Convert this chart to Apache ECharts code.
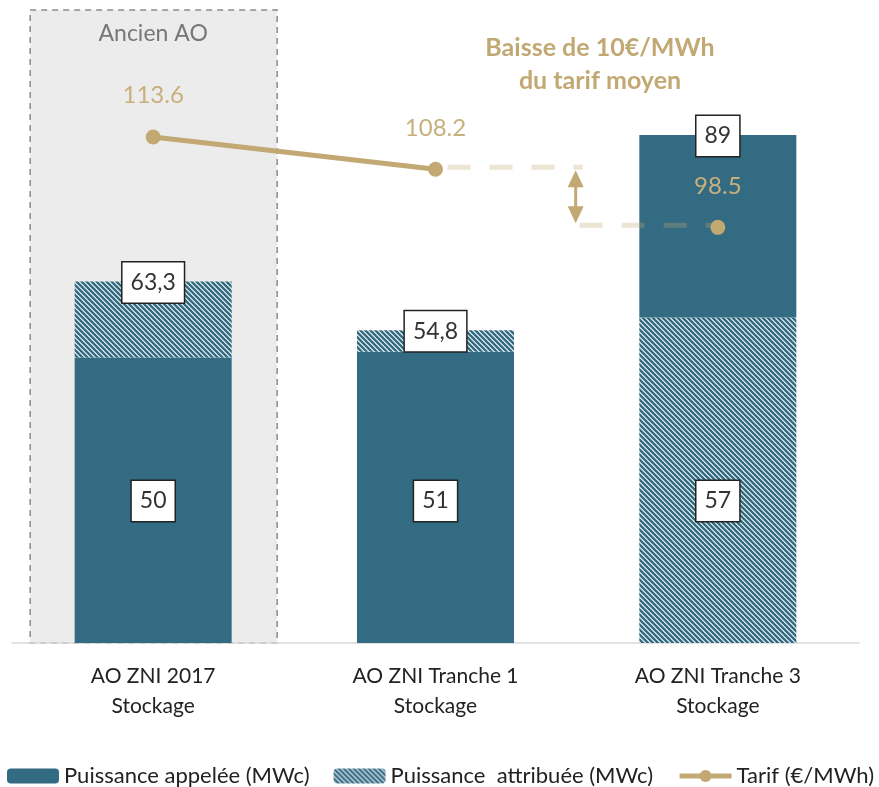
<!DOCTYPE html>
<html>
<head>
<meta charset="utf-8">
<script src="https://cdn.jsdelivr.net/npm/echarts@6/dist/echarts.min.js"></script>
<style>
  html, body { margin: 0; padding: 0; background: #fff; }
  #main { width: 879px; height: 787px; }
</style>
</head>
<body>
<div id="main"></div>
<script>
// données
var categories = ['AO ZNI 2017\nStockage', 'AO ZNI Tranche 1\nStockage', 'AO ZNI Tranche 3\nStockage'];
var puissanceAppelee = [50, 51, 89];        // MWc
var puissanceAttribuee = [63.3, 54.8, 57];  // MWc
var tarif = [113.6, 108.2, 98.5];           // €/MWh

var NAME_APP = 'Puissance appelée (MWc)';
var NAME_ATT = 'Puissance  attribuée (MWc)';
var NAME_TAR = 'Tarif (€/MWh)';

var TEAL = '#336b82';
var GOLD = '#c2a872';
var GOLD_TXT = '#c8b07c';
var FONT = 'Lato, "Noto Sans", sans-serif';

function fmt(v) { return String(v).replace('.', ','); }

// hachures
function makeHatch() {
  var n = 5;
  var c = document.createElement('canvas');
  c.width = n; c.height = n;
  var ctx = c.getContext('2d');
  ctx.fillStyle = '#fff';
  ctx.fillRect(0, 0, n, n);
  ctx.strokeStyle = TEAL;
  ctx.lineWidth = 2.5;
  ctx.beginPath();
  ctx.moveTo(-1, -1); ctx.lineTo(n + 1, n + 1);
  ctx.moveTo(-1, n - 1); ctx.lineTo(1, n + 1);
  ctx.moveTo(n - 1, -1); ctx.lineTo(n + 1, 1);
  ctx.stroke();
  return { image: c, repeat: 'repeat' };
}
var hatch = makeHatch();

// découpage en segments empilés
var solidBottom = [], hatchBottom = [], hatchTop = [], solidTop = [];
for (var i = 0; i < categories.length; i++) {
  var a = puissanceAppelee[i], b = puissanceAttribuee[i];
  if (a <= b) {
    solidBottom.push(a); hatchBottom.push('-');
    hatchTop.push(+(b - a).toFixed(2)); solidTop.push('-');
  } else {
    solidBottom.push('-'); hatchBottom.push(b);
    hatchTop.push('-'); solidTop.push(+(a - b).toFixed(2));
  }
}
// le tarif : trait plein entre les deux premiers AO, dernier point isolé
var tarifLigne = tarif.map(function (v, k) { return k < 2 ? v : '-'; });
var tarifPoint = tarif.map(function (v, k) { return k === 2 ? v : '-'; });

var boxLabel = {
  show: true,
  color: '#333',
  fontSize: 23,
  fontFamily: FONT,
  lineHeight: 24,
  backgroundColor: '#fff',
  borderColor: '#222',
  borderWidth: 1.5,
  padding: [8, 8]
};
var bottomLabel = Object.assign({}, boxLabel, {
  position: 'insideBottom',
  distance: 122,
  formatter: function (p) { return fmt(Math.min(puissanceAppelee[p.dataIndex], puissanceAttribuee[p.dataIndex])); }
});
var topLabel = Object.assign({}, boxLabel, {
  position: 'top',
  distance: -21,
  formatter: function (p) { return fmt(Math.max(puissanceAppelee[p.dataIndex], puissanceAttribuee[p.dataIndex])); }
});
var tarifLabel = { show: true, position: 'top', distance: 22, color: GOLD_TXT, fontSize: 24, fontFamily: FONT };

var chart = echarts.init(document.getElementById('main'));

var option = {
  animation: false,
  textStyle: { fontFamily: FONT },
  grid: { left: 12, right: 20, top: 15, bottom: 144 },
  legend: {
    left: 7,
    top: 765,
    width: 879,
    padding: 0,
    itemWidth: 52,
    itemHeight: 15,
    itemGap: 24,
    textStyle: { fontSize: 22, color: '#222', fontFamily: FONT },
    data: [
      NAME_APP,
      NAME_ATT,
      { name: NAME_TAR, lineStyle: { width: 5, color: GOLD } }
    ]
  },
  xAxis: {
    type: 'category',
    data: categories,
    axisLine: { lineStyle: { color: '#d9d9d9', width: 1.5 } },
    axisTick: { show: false },
    axisLabel: { color: '#222', fontSize: 21, lineHeight: 30, margin: 18, fontFamily: FONT }
  },
  yAxis: [
    { type: 'value', min: 0, max: 110, show: false, splitLine: { show: false } },
    { type: 'value', min: 29, max: 134, show: false, splitLine: { show: false } }
  ],
  series: [
    {
      name: NAME_APP, type: 'bar', stack: 'p', barWidth: 157,
      itemStyle: { color: TEAL }, label: bottomLabel, data: solidBottom
    },
    {
      name: NAME_ATT, type: 'bar', stack: 'p', barWidth: 157,
      itemStyle: { color: hatch }, label: bottomLabel, data: hatchBottom
    },
    {
      name: NAME_ATT, type: 'bar', stack: 'p', barWidth: 157,
      itemStyle: { color: hatch }, label: topLabel, data: hatchTop
    },
    {
      name: NAME_APP, type: 'bar', stack: 'p', barWidth: 157,
      itemStyle: { color: TEAL }, label: topLabel, data: solidTop
    },
    {
      name: NAME_TAR, type: 'line', yAxisIndex: 1, z: 6,
      symbol: 'circle', symbolSize: 15,
      lineStyle: { color: GOLD, width: 5 },
      itemStyle: { color: GOLD },
      label: tarifLabel,
      data: tarifLigne
    },
    {
      name: NAME_TAR, type: 'line', yAxisIndex: 1, z: 6,
      symbol: 'circle', symbolSize: 15,
      lineStyle: { color: GOLD, width: 5 },
      itemStyle: { color: GOLD },
      label: tarifLabel,
      data: tarifPoint
    }
  ]
};
chart.setOption(option);

// éléments annexes placés à partir des échelles
var cx0 = chart.convertToPixel({ xAxisIndex: 0 }, 0);
var base = chart.convertToPixel({ yAxisIndex: 0 }, 0);
var p1 = chart.convertToPixel({ seriesIndex: 4 }, [1, tarif[1]]);
var p2 = chart.convertToPixel({ seriesIndex: 5 }, [2, tarif[2]]);
var ax = (p1[0] + p2[0]) / 2;
var dashStyle = { stroke: 'rgba(194,168,114,0.3)', lineWidth: 5, lineDash: [23, 19] };

chart.setOption({
  graphic: [
    {
      type: 'rect', z: -10, silent: true,
      shape: { x: cx0 - 123, y: 10, width: 247, height: base - 10 },
      style: { fill: '#ececec', stroke: '#8c8c8c', lineWidth: 1.5, lineDash: [6, 5] }
    },
    {
      type: 'text', z: -5, x: cx0, y: 22,
      style: { text: 'Ancien AO', fill: '#777', fontSize: 23, fontFamily: FONT, textAlign: 'center' }
    },
    {
      type: 'text', x: 600, y: 31,
      style: {
        text: 'Baisse de 10€/MWh\ndu tarif moyen', fill: GOLD, fontSize: 25, fontWeight: 'bold',
        fontFamily: FONT, textAlign: 'center', lineHeight: 33
      }
    },
    {
      type: 'line', z: 4, silent: true,
      shape: { x1: p1[0] + 12, y1: p1[1] - 2, x2: ax + 6, y2: p1[1] - 2 },
      style: dashStyle
    },
    {
      type: 'line', z: 4, silent: true,
      shape: { x1: ax + 3, y1: p2[1] - 2, x2: p2[0] - 6, y2: p2[1] - 2 },
      style: dashStyle
    },
    {
      type: 'line', z: 4, silent: true,
      shape: { x1: ax - 1, y1: p1[1] + 12, x2: ax - 1, y2: p2[1] - 14 },
      style: { stroke: GOLD, lineWidth: 3 }
    },
    {
      type: 'polygon', z: 4, silent: true,
      shape: { points: [[ax - 1, p1[1] + 1], [ax - 9, p1[1] + 18], [ax + 7, p1[1] + 18]] },
      style: { fill: GOLD }
    },
    {
      type: 'polygon', z: 4, silent: true,
      shape: { points: [[ax - 1, p2[1] - 4], [ax - 9, p2[1] - 21], [ax + 7, p2[1] - 21]] },
      style: { fill: GOLD }
    }
  ]
});
</script>
</body>
</html>
